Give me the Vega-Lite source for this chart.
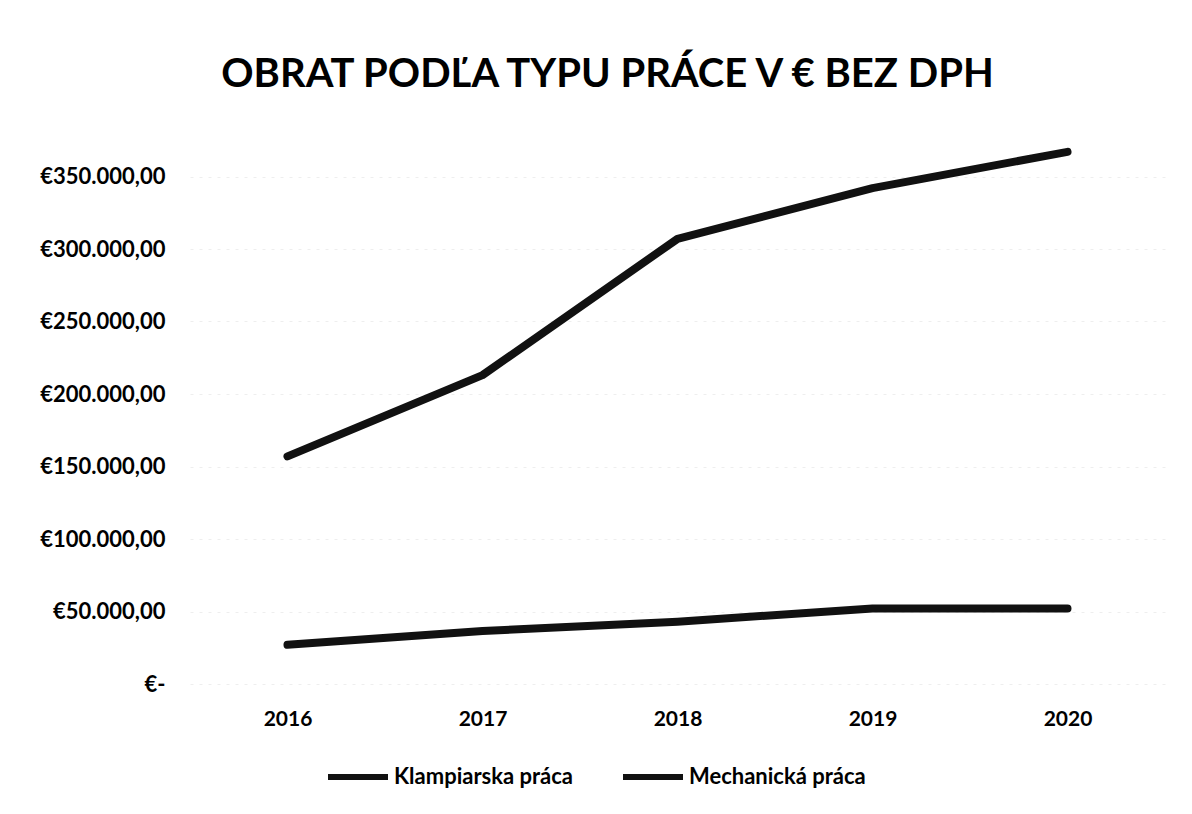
{
  "$schema": "https://vega.github.io/schema/vega-lite/v6.json",
  "autosize": "none",
  "width": 975,
  "height": 551,
  "padding": {"left": 190, "top": 133, "right": 27, "bottom": 130},
  "background": "white",
  "title": {
    "text": "OBRAT PODĽA TYPU PRÁCE V € BEZ DPH",
    "font": "Lato",
    "fontSize": 40,
    "fontWeight": "bold",
    "color": "#000000",
    "anchor": "middle",
    "dx": -70,
    "offset": 38
  },
  "data": {
    "values": [
      {"rok": "2016", "typ": "Klampiarska práca", "obrat": 157000},
      {"rok": "2017", "typ": "Klampiarska práca", "obrat": 213000},
      {"rok": "2018", "typ": "Klampiarska práca", "obrat": 307000},
      {"rok": "2019", "typ": "Klampiarska práca", "obrat": 342000},
      {"rok": "2020", "typ": "Klampiarska práca", "obrat": 367000},
      {"rok": "2016", "typ": "Mechanická práca", "obrat": 27000},
      {"rok": "2017", "typ": "Mechanická práca", "obrat": 36500},
      {"rok": "2018", "typ": "Mechanická práca", "obrat": 43000},
      {"rok": "2019", "typ": "Mechanická práca", "obrat": 52000},
      {"rok": "2020", "typ": "Mechanická práca", "obrat": 52000}
    ]
  },
  "mark": {"type": "line", "strokeWidth": 8, "strokeCap": "round", "strokeJoin": "round"},
  "encoding": {
    "x": {
      "field": "rok",
      "type": "ordinal",
      "scale": {"type": "point", "padding": 0.5},
      "axis": {
        "title": null,
        "labelAngle": 0,
        "labelFont": "Lato",
        "labelFontSize": 21,
        "labelFontWeight": "bold",
        "labelColor": "#000000",
        "labelPadding": 24,
        "domain": false,
        "ticks": false,
        "grid": false
      }
    },
    "y": {
      "field": "obrat",
      "type": "quantitative",
      "scale": {"domain": [0, 380000], "nice": false},
      "axis": {
        "title": null,
        "values": [0, 50000, 100000, 150000, 200000, 250000, 300000, 350000],
        "labelExpr": "datum.value == 0 ? '€-' : '€' + replace(replace(replace(format(datum.value, ',.2f'), ',', '#'), '.', ','), '#', '.')",
        "labelFont": "Lato",
        "labelFontSize": 22,
        "labelFontWeight": "bold",
        "labelColor": "#000000",
        "labelPadding": 25,
        "domain": false,
        "ticks": false,
        "grid": true,
        "gridColor": "#eeeeee",
        "gridDash": [3, 6]
      }
    },
    "color": {
      "field": "typ",
      "type": "nominal",
      "scale": {"range": ["#111111", "#111111"]},
      "legend": {
        "title": null,
        "orient": "none",
        "legendX": 135,
        "legendY": 611,
        "direction": "horizontal",
        "symbolType": "stroke",
        "symbolSize": 3600,
        "symbolStrokeWidth": 6,
        "labelFont": "Lato",
        "labelFontSize": 22,
        "labelFontWeight": "bold",
        "labelColor": "#000000",
        "labelLimit": 400,
        "labelOffset": 3,
        "columnPadding": 38
      }
    }
  },
  "config": {"view": {"stroke": null}}
}
